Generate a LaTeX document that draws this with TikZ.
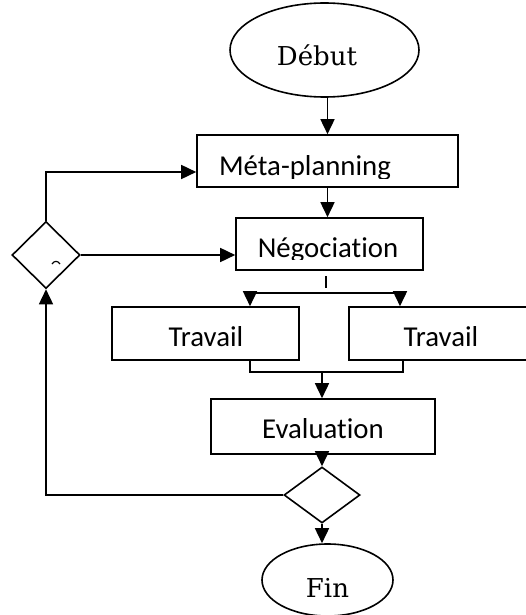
\documentclass[tikz,border=0pt]{standalone}
\usepackage{fontspec}
\setmainfont{Carlito}[Ligatures=NoCommon]
\newfontfamily\ovalfont{DejaVu Serif}
\usetikzlibrary{arrows.meta,shapes.geometric}
\begin{document}
\begin{tikzpicture}[x=1pt,y=-1pt,
  line width=1.6pt,
  box/.style={draw, rectangle, inner sep=0pt},
  oval/.style={draw, ellipse, inner sep=0pt},
  choice/.style={draw, diamond, inner sep=0pt},
  lbl/.style={anchor=base, inner sep=0pt, font=\fontsize{28.8}{30}\selectfont},
  ovallbl/.style={anchor=base, inner sep=0pt, font=\ovalfont\fontsize{26}{28}\selectfont},
  arr/.style={-{Triangle[length=15pt,width=14pt]}},
]
\useasboundingbox (0,0) rectangle (526,615);

% shapes
\node[oval, minimum width=189pt, minimum height=94pt] (debut) at (324.5,50) {};
\node[box, minimum width=261pt, minimum height=52pt] (meta) at (327.5,161) {};
\node[box, minimum width=187pt, minimum height=52pt] (nego) at (329.5,244) {};
\node[box, minimum width=187pt, minimum height=53pt] (trav1) at (205.5,333.5) {};
\node[box, minimum width=181pt, minimum height=53pt] (trav2) at (439.5,333.5) {};
\node[box, minimum width=224pt, minimum height=55pt] (eval) at (323,426.5) {};
\node[choice, minimum width=76pt, minimum height=56pt] (dec2) at (322,495) {};
\node[oval, minimum width=131pt, minimum height=72pt] (fin) at (327.5,580) {};
\node[choice, minimum width=68pt, minimum height=67pt] (dec1) at (46,255) {};

% labels
\node[ovallbl] (debutText) at (317,66) {Début};
\begin{scope}
  \clip (meta.north west) rectangle ([yshift=9pt]meta.south east);
  \node[lbl] (metaText) at (305,175) {Méta-planning};
\end{scope}
\begin{scope}
  \clip (nego.north west) rectangle ([yshift=11pt]nego.south east);
  \node[lbl] (negoText) at (328,257) {Négociation};
\end{scope}
\node[lbl] (trav1Text) at (206,346) {Travail};
\node[lbl] (trav2Text) at (441,346) {Travail};
\node[lbl] (evalText) at (323,438) {Evaluation};
\node[ovallbl] (finText) at (327.5,597) {Fin};
\draw[line width=1.2pt] (52,264) .. controls (54,260.5) and (58,260.5) .. (60,264);

% main flow
\draw[arr] (debut.south -| meta.north) -- (meta.north);
\draw[arr] (meta.south) -- (meta.south |- nego.north);

\coordinate (tickTop) at (326,276);
\coordinate (tickBot) at (326,288);
\draw (tickTop) -- (tickBot);

\coordinate (splitL) at (250,293);
\coordinate (splitR) at (400,293);
\draw (splitL) -- (splitR);
\draw[arr] (splitL) -- (splitL |- trav1.north);
\draw[arr] (splitR) -- (splitR |- trav2.north);

\coordinate (joinL) at (250,372);
\coordinate (joinR) at (403,372);
\coordinate (joinM) at (322,372);
\draw (joinL |- trav1.south) -- (joinL) -- (joinR) -- (joinR |- trav2.south);
\draw[arr] (joinM) -- (joinM |- eval.north);

\draw[arr] (eval.south -| dec2.north) -- (dec2.north);
\draw[arr] (dec2.south) -- (dec2.south |- fin.north);

% feedback loop
\draw[arr] (dec2.west) -| (dec1.south);
\draw[arr] (dec1.north) |- ([yshift=-11pt]meta.west);
\draw[arr] (dec1.east) -- (dec1.east -| nego.west);
\end{tikzpicture}
\end{document}
